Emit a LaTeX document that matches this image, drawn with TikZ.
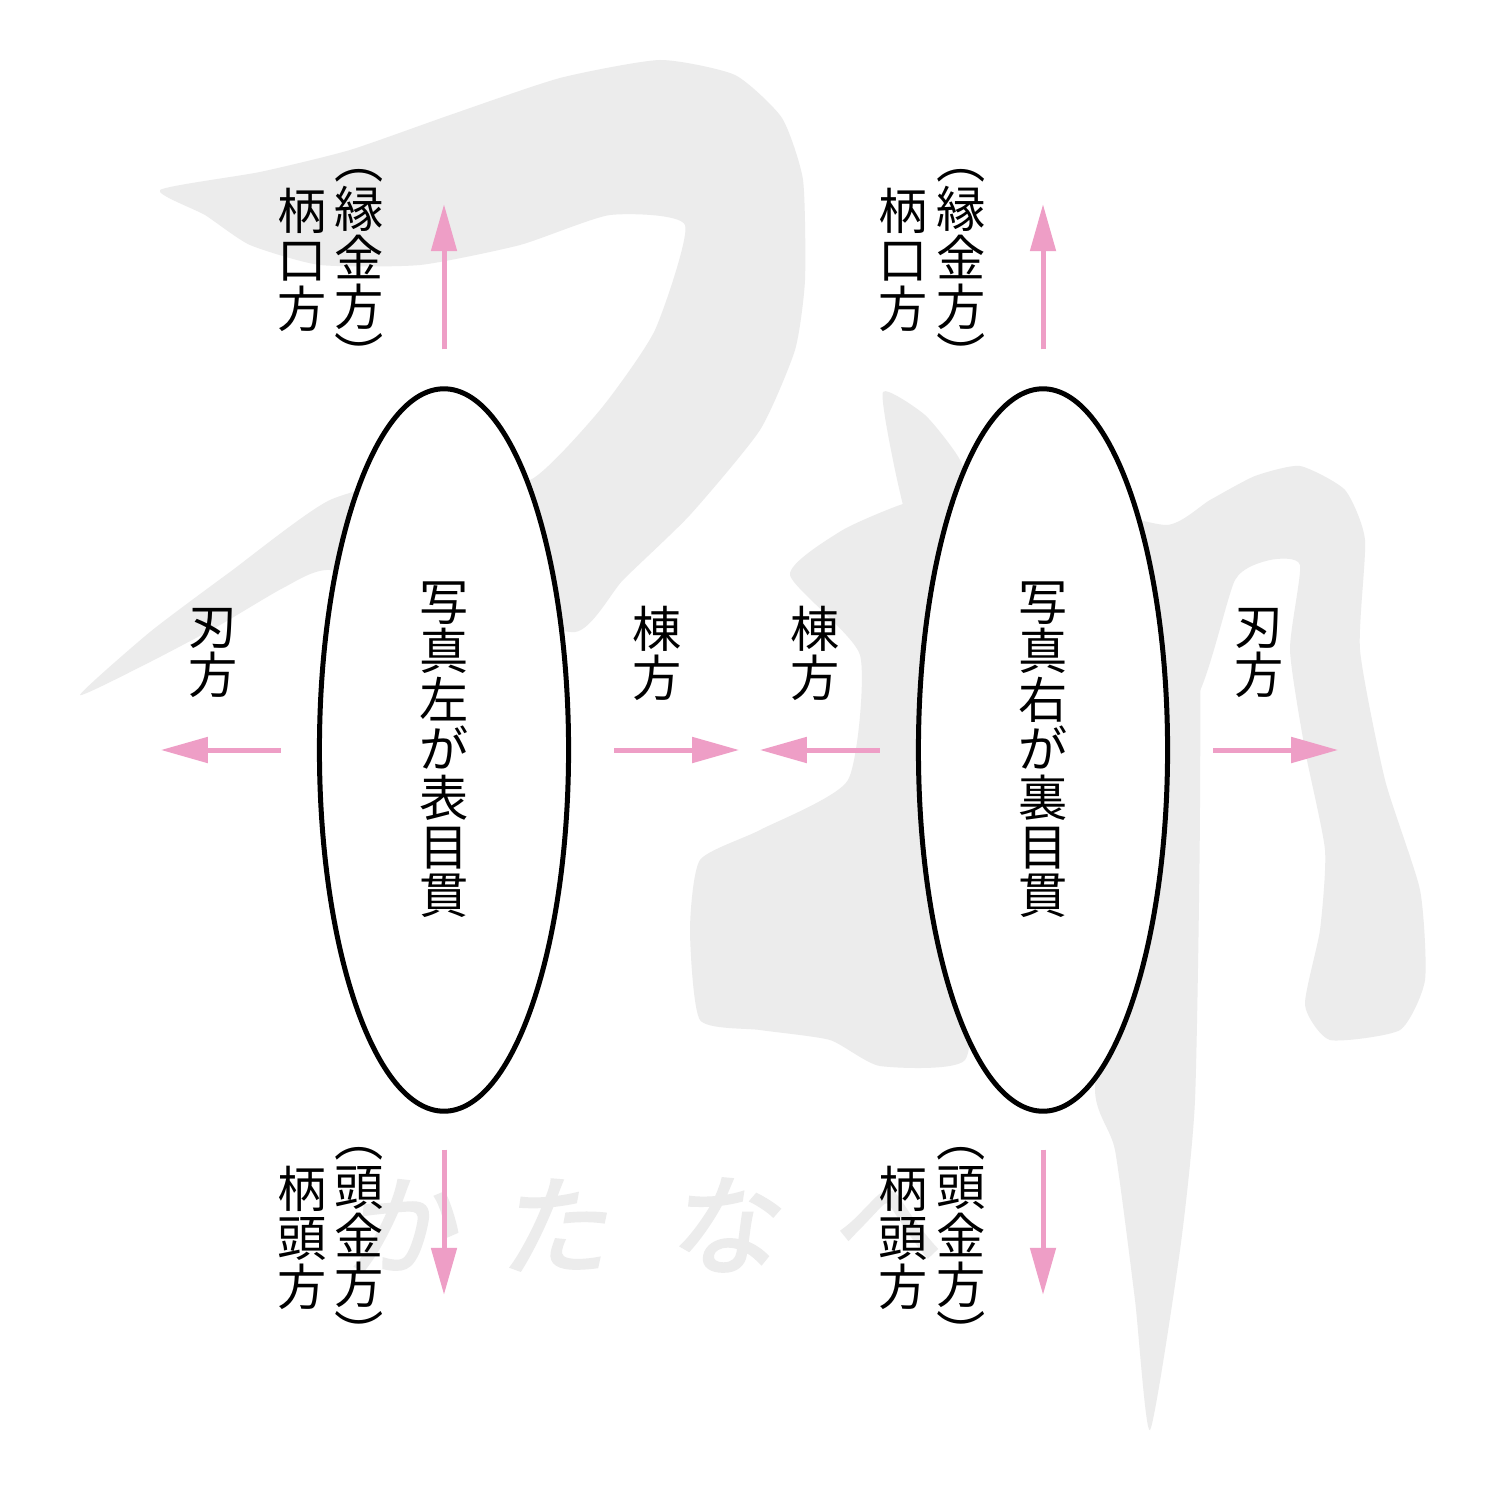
\documentclass[tikz,border=0pt]{standalone}
\usepackage{fontspec}
\setmainfont{Noto Sans CJK JP}
\newfontfamily\washfamily[FakeBold=2.5, FakeSlant=0.18]{Noto Sans CJK JP}
\newcommand*{\labelfont}{\fontsize{14}{13.9}\selectfont\lineskiplimit=-20pt}
\newcommand*{\washfont}{\washfamily\fontsize{31}{31}\selectfont}
\newcommand*{\vp}[1]{#1\vphantom{口}}
\definecolor{arrowpink}{RGB}{238,158,198}
\definecolor{wash}{RGB}{236,236,236}
\usetikzlibrary{arrows.meta}
\usetikzlibrary{shapes.geometric}
\tikzstyle{base}=[x=0.01cm, y=-0.01cm]
\tikzstyle{menuki}=[ellipse, draw=black, fill=white, line width=0.5mm, minimum width=2.49cm, minimum height=7.22cm, inner sep=0pt, align=center, font=\labelfont]
\tikzstyle{dirarrow}=[arrowpink, line width=0.5mm, -{Triangle[length=4.7mm, width=2.5mm]}]
\tikzstyle{vlabel}=[align=center, font=\labelfont, inner sep=0pt]
\tikzstyle{washtext}=[wash, font=\washfont, inner sep=0pt]

\begin{document}
\begin{tikzpicture}[base]
    \fill [white] (0,0) rectangle (1500,1500);
    \useasboundingbox (0,0) rectangle (1500,1500);
        % brush characters in the background
        \fill [wash] plot [smooth cycle, tension=0.35] coordinates {(160,190) (260,172) (350,150) (450,115) (560,78) (660,60) (735,75) (782,118) (803,180) (805,280) (795,350) (760,430) (690,515) (623,580) (575,632) (450,600) (330,570) (283,588) (220,625) (150,662) (80,695) (150,632) (230,572) (330,500) (450,470) (530,480) (600,410) (655,330) (685,225) (610,215) (520,245) (420,265) (320,265) (250,245) (205,215)};
        \fill [wash] plot [smooth cycle, tension=0.35] coordinates {(883,392) (925,415) (960,460) (978,520) (950,560) (915,545) (895,470)};
        \fill [wash] plot [smooth cycle, tension=0.35] coordinates {(841,531) (900,505) (965,488) (1060,500) (1166,525) (1210,500) (1255,476) (1300,466) (1345,490) (1365,540) (1360,650) (1385,780) (1420,890) (1425,980) (1400,1030) (1330,1040) (1305,1005) (1320,930) (1325,850) (1305,750) (1290,650) (1300,565) (1270,560) (1235,580) (1195,700) (1100,760) (1000,850) (975,950) (965,1060) (880,1066) (830,1040) (760,1030) (700,1020) (690,930) (700,860) (760,830) (848,780) (860,655) (790,575)};
        \fill [wash] plot [smooth cycle, tension=0.35] coordinates {(1120,560) (1195,560) (1200,800) (1195,1100) (1180,1250) (1150,1430) (1135,1300) (1115,1150) (1095,1090) (1110,900)};
        \foreach \x/\c [count=\i] in {400/か, 553/た, 722/な, 885/へ}
            \node [washtext] (wash-\i) at (\x,1225) {\c};

        \node [menuki] (omote) at (444,750) {写\\真\\左\\が\\表\\目\\貫};
        \node [menuki] (ura) at (1043,750) {写\\真\\右\\が\\裏\\目\\貫};

        \draw [dirarrow] ([yshift=3.7mm]omote.north) -- ++(0,1.45cm);
        \draw [dirarrow] ([yshift=-3.6mm]omote.south) -- ++(0,-1.45cm);
        \draw [dirarrow] ([xshift=-3.6mm]omote.west) -- ++(-1.2cm,0);
        \draw [dirarrow] ([xshift=4.3mm]omote.east) -- ++(1.25cm,0);
        \draw [dirarrow] ([yshift=3.7mm]ura.north) -- ++(0,1.45cm);
        \draw [dirarrow] ([yshift=-3.6mm]ura.south) -- ++(0,-1.45cm);
        \draw [dirarrow] ([xshift=-3.6mm]ura.west) -- ++(-1.2cm,0);
        \draw [dirarrow] ([xshift=4.3mm]ura.east) -- ++(1.25cm,0);

        \node [vlabel] (omote-tsukaguchi) at (302,260) {柄\\口\\方};
        \node [vlabel] (omote-fuchi) at (359,260) {\vp{︵}\\縁\\金\\方\\\vp{︶}};
        \node [vlabel] (omote-tsukagashira) at (302,1238) {柄\\頭\\方};
        \node [vlabel] (omote-kashira) at (359,1238) {\vp{︵}\\頭\\金\\方\\\vp{︶}};
        \node [vlabel] (omote-ha) at (213,653) {刃\\方};
        \node [vlabel] (omote-mune) at (657,653) {棟\\方};
        \node [vlabel] (ura-tsukaguchi) at (903,260) {柄\\口\\方};
        \node [vlabel] (ura-fuchi) at (961,260) {\vp{︵}\\縁\\金\\方\\\vp{︶}};
        \node [vlabel] (ura-tsukagashira) at (903,1238) {柄\\頭\\方};
        \node [vlabel] (ura-kashira) at (961,1238) {\vp{︵}\\頭\\金\\方\\\vp{︶}};
        \node [vlabel] (ura-mune) at (815,653) {棟\\方};
        \node [vlabel] (ura-ha) at (1259,653) {刃\\方};
    \end{tikzpicture}
\end{document}
